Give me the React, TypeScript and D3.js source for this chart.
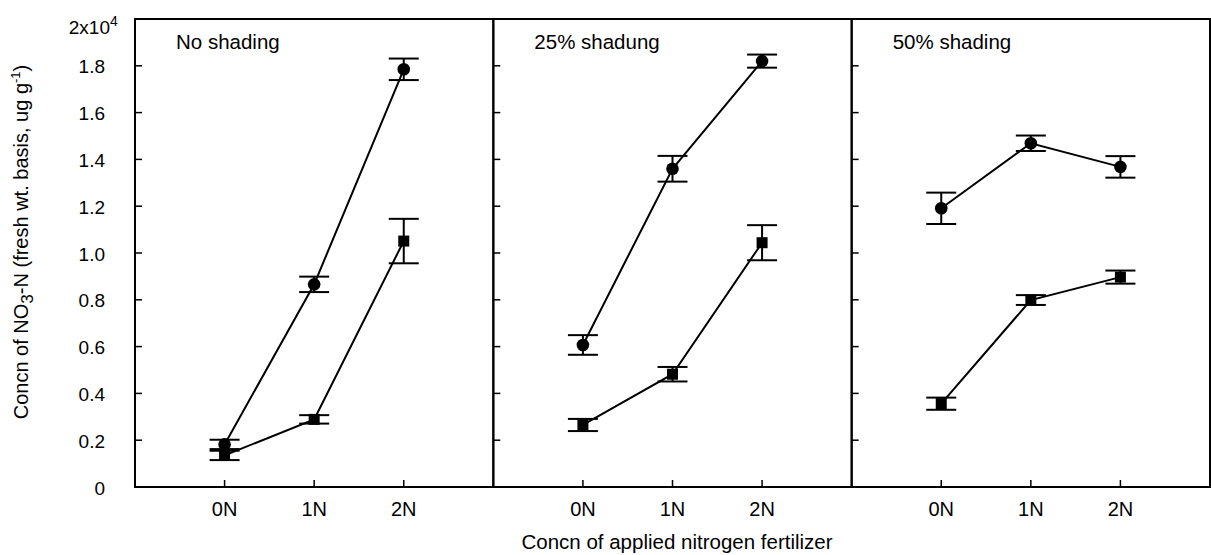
import React from "react";
import * as d3 from "d3";

const categories = ["0N", "1N", "2N"];
const panels = ["No shading", "25% shadung", "50% shading"];
// values in units of 10^4 ug/g
const circleMeans = [
  [0.182, 0.866, 1.785],
  [0.607, 1.36, 1.82],
  [1.191, 1.469, 1.368],
];
const circleErr = [
  [0.02, 0.033, 0.046],
  [0.042, 0.055, 0.028],
  [0.067, 0.033, 0.046],
];
const squareMeans = [
  [0.135, 0.289, 1.051],
  [0.265, 0.482, 1.044],
  [0.356, 0.799, 0.897],
];
const squareErr = [
  [0.02, 0.018, 0.095],
  [0.026, 0.031, 0.075],
  [0.026, 0.021, 0.028],
];
const yTicks = [0.2, 0.4, 0.6, 0.8, 1.0, 1.2, 1.4, 1.6, 1.8];
const yTickLabels = ["0", "0.2", "0.4", "0.6", "0.8", "1.0", "1.2", "1.4", "1.6", "1.8"];

const W = 1211;
const H = 555;
const left = 135;
const right = 1210;
const top = 19;
const bottom = 487;
const FONT = "Liberation Sans, Arial, sans-serif";

export default function App() {
  const pw = (right - left) / panels.length;
  const y = d3.scaleLinear().domain([0, 2]).range([bottom, top]);
  const line = d3.line<[number, number]>().x((d) => d[0]).y((d) => d[1]);
  const cap = 15;

  return (
    <svg width={W} height={H} style={{ position: "absolute", left: 0, top: 0, background: "#fff" }} fontFamily={FONT}>
      {/* y tick labels */}
      {[0, ...yTicks].map((v, i) => (
        <text key={"yl" + i} x={105} y={y(v)} dy="0.4em" textAnchor="end" fontSize={19} fill="#000">
          {yTickLabels[i]}
        </text>
      ))}
      <text x={110} y={34} textAnchor="end" fontSize={19} fill="#000">2x10</text>
      <text x={110} y={26} textAnchor="start" fontSize={14} fill="#000">4</text>
      {/* y title */}
      <text transform={`translate(28,${(top + bottom) / 2 - 11}) rotate(-90)`} textAnchor="middle" fontSize={20} fill="#000">
        Concn of NO<tspan dy="5" fontSize={17}>3</tspan>
        <tspan dy="-5">-N (fresh wt. basis, ug g</tspan>
        <tspan dy="-8" fontSize={13}>-1</tspan>
        <tspan dy="8">)</tspan>
      </text>
      {/* x title */}
      <text x={677} y={549} textAnchor="middle" fontSize={20.5} fill="#000">
        Concn of applied nitrogen fertilizer
      </text>

      {panels.map((title, p) => {
        const x0 = left + p * pw;
        const x = d3.scaleLinear().domain([-1, 3]).range([x0, x0 + pw]);
        const cPts: [number, number][] = circleMeans[p].map((v, i) => [x(i), y(v)]);
        const sPts: [number, number][] = squareMeans[p].map((v, i) => [x(i), y(v)]);
        return (
          <g key={"p" + p}>
            {/* y ticks inward */}
            {yTicks.map((v) => (
              <line key={"yt" + v} x1={x0} x2={x0 + 7} y1={y(v)} y2={y(v)} stroke="#000" strokeWidth={1.5} />
            ))}
            {/* x ticks */}
            {categories.map((c, i) => (
              <g key={"xt" + i}>
                <line x1={x(i)} x2={x(i)} y1={bottom} y2={bottom - 7} stroke="#000" strokeWidth={1.5} />
                <text x={x(i)} y={bottom + 29} textAnchor="middle" fontSize={20} fill="#000">
                  {c}
                </text>
              </g>
            ))}
            <text x={x0 + 41} y={49} fontSize={20.5} fill="#000">
              {title}
            </text>
            {/* lines */}
            <path d={line(cPts) || ""} fill="none" stroke="#000" strokeWidth={2} />
            <path d={line(sPts) || ""} fill="none" stroke="#000" strokeWidth={2} />
            {/* error bars */}
            {circleMeans[p].map((v, i) => (
              <g key={"ce" + i} stroke="#000" strokeWidth={2}>
                <line x1={x(i)} x2={x(i)} y1={y(v - circleErr[p][i])} y2={y(v + circleErr[p][i])} />
                <line x1={x(i) - cap} x2={x(i) + cap} y1={y(v + circleErr[p][i])} y2={y(v + circleErr[p][i])} />
                <line x1={x(i) - cap} x2={x(i) + cap} y1={y(v - circleErr[p][i])} y2={y(v - circleErr[p][i])} />
              </g>
            ))}
            {squareMeans[p].map((v, i) => (
              <g key={"se" + i} stroke="#000" strokeWidth={2}>
                <line x1={x(i)} x2={x(i)} y1={y(v - squareErr[p][i])} y2={y(v + squareErr[p][i])} />
                <line x1={x(i) - cap} x2={x(i) + cap} y1={y(v + squareErr[p][i])} y2={y(v + squareErr[p][i])} />
                <line x1={x(i) - cap} x2={x(i) + cap} y1={y(v - squareErr[p][i])} y2={y(v - squareErr[p][i])} />
              </g>
            ))}
            {/* markers */}
            {cPts.map((d, i) => (
              <circle key={"c" + i} cx={d[0]} cy={d[1]} r={6.3} fill="#000" />
            ))}
            {sPts.map((d, i) => (
              <rect key={"s" + i} x={d[0] - 5.5} y={d[1] - 5.5} width={11} height={11} fill="#000" />
            ))}
            {/* frame */}
            <rect x={x0} y={top} width={pw} height={bottom - top} fill="none" stroke="#000" strokeWidth={2} />
          </g>
        );
      })}
    </svg>
  );
}
